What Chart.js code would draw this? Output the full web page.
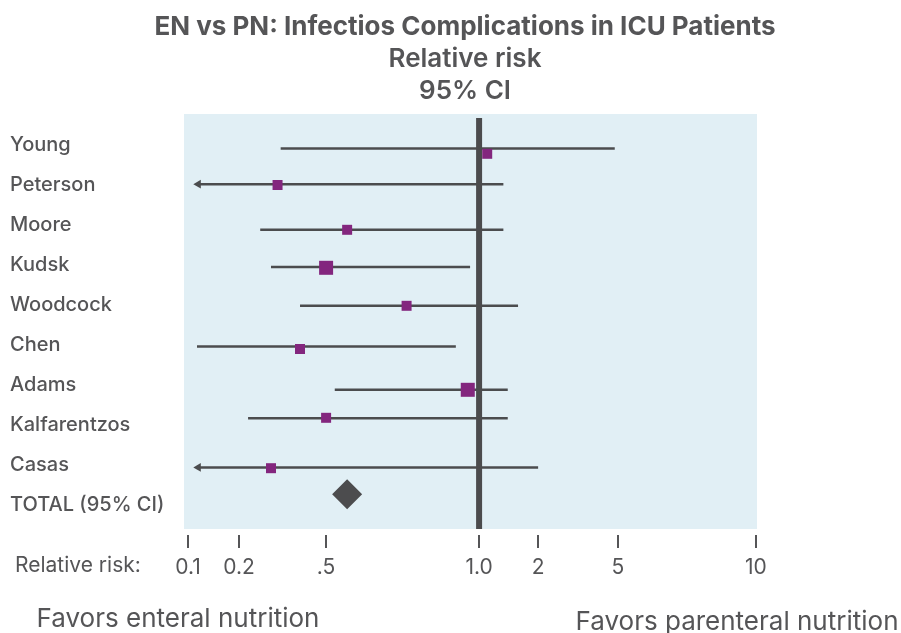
<!DOCTYPE html>
<html lang="en">
<head>
<meta charset="utf-8">
<title>EN vs PN: Infectios Complications in ICU Patients</title>
<script src="https://cdn.jsdelivr.net/npm/chart.js@4"></script>
<style>
  html, body { margin: 0; padding: 0; background: #fff; }
  #chart { display: block; }
</style>
</head>
<body>
<canvas id="chart" width="901" height="633"></canvas>
<script>
// studies, top to bottom
const studies = ['Young', 'Peterson', 'Moore', 'Kudsk', 'Woodcock', 'Chen', 'Adams', 'Kalfarentzos', 'Casas'];
const relRisk = [1.10, 0.30, 0.55, 0.50, 0.72, 0.38, 0.95, 0.50, 0.28];
const ciLow   = [0.31, 0.06, 0.25, 0.28, 0.38, 0.113, 0.52, 0.22, 0.06];   // below 0.1 = off the axis (arrow)
const ciHigh  = [4.83, 1.33, 1.33, 0.96, 1.58, 0.90, 1.40, 1.40, 2.00];
const studyWeight = [1, 1, 1, 2, 1, 1, 2, 1, 1];
// y value (in label rows) of each CI line and each square
const lineRow   = [0.09, 0.98, 2.12, 3.05, 4.02, 5.04, 6.12, 6.83, 8.06];
const squareRow = [0.22, 1.00, 2.12, 3.07, 4.02, 5.10, 6.12, 6.82, 8.08];
const totalLabel = 'TOTAL (95% CI)';
const totalRisk = 0.55;
const totalRow = 8.73;
const tickValues = [0.1, 0.2, 0.5, 1, 2, 5, 10];
const tickLabels = ['0.1', '0.2', '.5', '1.0', '2', '5', '10'];

const rowLabels = studies.concat([totalLabel]);
const FONT = 'Inter, "Liberation Sans", Arial, sans-serif';
const GREY = '#555557';
const LINE = '#4b4c4e';
const PURPLE = '#83267e';
const ARROW_AT = 0.115;

// the printed axis is not a real log axis, every tick has its own place
const AXIS_STOPS = [0.007, 0.096, 0.248, 0.515, 0.618, 0.757, 0.998];
function riskToDecimal(v) {
  let i = 0;
  while (i < tickValues.length - 2 && v > tickValues[i + 1]) i++;
  const f = Math.log(v / tickValues[i]) / Math.log(tickValues[i + 1] / tickValues[i]);
  return AXIS_STOPS[i] + f * (AXIS_STOPS[i + 1] - AXIS_STOPS[i]);
}
class RiskScale extends Chart.LinearScale {
  buildTicks() { return tickValues.map(v => ({ value: v })); }
  getPixelForValue(v) { return this.getPixelForDecimal(riskToDecimal(v)); }
}
RiskScale.id = 'risk';
RiskScale.defaults = Chart.LinearScale.defaults;
Chart.register(RiskScale);

// CI lines, one dataset per study
const ciSets = studies.map((name, i) => {
  const cut = ciLow[i] < tickValues[0];
  return {
    type: 'line',
    label: name,
    data: [{ x: cut ? ARROW_AT : ciLow[i], y: lineRow[i] }, { x: ciHigh[i], y: lineRow[i] }],
    borderColor: LINE,
    borderWidth: 2.5,
    pointStyle: 'triangle',
    rotation: -90,
    pointRadius: [cut ? 5 : 0, 0],
    pointBackgroundColor: LINE,
    pointBorderWidth: 0,
    order: 3
  };
});

const backgroundPlugin = {
  id: 'plotBackground',
  beforeDraw(chart) {
    const a = chart.chartArea, ctx = chart.ctx;
    ctx.save();
    ctx.fillStyle = '#e1eff5';
    ctx.fillRect(a.left, a.top, a.right - a.left, a.bottom - a.top);
    ctx.restore();
  }
};

// titles, axis tick marks and the two "Favors" captions
const textPlugin = {
  id: 'texts',
  afterDraw(chart) {
    const ctx = chart.ctx, x = chart.scales.x;
    ctx.save();
    ctx.fillStyle = GREY;
    ctx.textBaseline = 'middle';
    ctx.textAlign = 'center';
    ctx.font = 'bold 26px ' + FONT;
    ctx.fillText('EN vs PN: Infectios Complications in ICU Patients', 465, 27);
    ctx.font = '600 26px ' + FONT;
    ctx.fillText('Relative risk', 465, 59);
    ctx.fillText('95% CI', 465, 91);

    ctx.strokeStyle = GREY;
    ctx.lineWidth = 2;
    tickValues.forEach(v => {
      const px = Math.round(x.getPixelForValue(v));
      ctx.beginPath();
      ctx.moveTo(px, 535);
      ctx.lineTo(px, 548);
      ctx.stroke();
    });
    ctx.font = '21px ' + FONT;
    ctx.textAlign = 'left';
    ctx.fillText('Relative risk:', 15, 566);
    ctx.font = '26px ' + FONT;
    ctx.textAlign = 'center';
    ctx.fillText('Favors enteral nutrition', 178, 619);
    ctx.fillText('Favors parenteral nutrition', 737, 622);
    ctx.restore();
  }
};

new Chart(document.getElementById('chart'), {
  type: 'scatter',
  data: {
    datasets: [
      {
        label: 'Studies',
        data: studies.map((s, i) => ({ x: relRisk[i], y: squareRow[i] })),
        pointStyle: 'rect',
        pointRadius: studyWeight.map(w => w > 1 ? 9.9 : 7.07),
        backgroundColor: PURPLE,
        borderWidth: 0,
        order: 0
      },
      {
        label: 'Total',
        data: [{ x: totalRisk, y: totalRow }],
        pointStyle: 'rectRot',
        pointRadius: 15,
        backgroundColor: '#4c4c4e',
        borderWidth: 0,
        order: 0
      },
      {
        type: 'line',
        label: 'No effect',
        data: [{ x: 1, y: -0.675 }, { x: 1, y: 9.6 }],
        borderColor: '#4b4b4d',
        borderWidth: 6,
        pointRadius: 0,
        order: 1
      }
    ].concat(ciSets)
  },
  options: {
    responsive: false,
    animation: false,
    events: [],
    layout: { padding: { left: 10, right: 144, top: 114, bottom: 0 } },
    plugins: {
      legend: { display: false },
      tooltip: { enabled: false }
    },
    scales: {
      x: {
        type: 'risk',
        min: 0.097,
        max: 10.05,
        grid: { display: false, drawTicks: false },
        border: { display: false },
        afterFit(scale) { scale.height = 104; },
        ticks: {
          autoSkip: false,
          maxRotation: 0,
          padding: 26,
          color: GREY,
          font: { family: FONT, size: 21 },
          callback: (v, i) => tickLabels[i]
        }
      },
      y: {
        type: 'linear',
        reverse: true,
        min: -0.775,
        max: 9.6,
        grid: { display: false, drawTicks: false },
        border: { display: false },
        afterBuildTicks(scale) { scale.ticks = rowLabels.map((l, i) => ({ value: i })); },
        afterFit(scale) { scale.width = 174; },
        ticks: {
          crossAlign: 'far',
          autoSkip: false,
          color: GREY,
          font: { family: FONT, size: 20, weight: '500' },
          callback: v => rowLabels[v]
        }
      }
    }
  },
  plugins: [backgroundPlugin, textPlugin]
});
</script>
</body>
</html>
